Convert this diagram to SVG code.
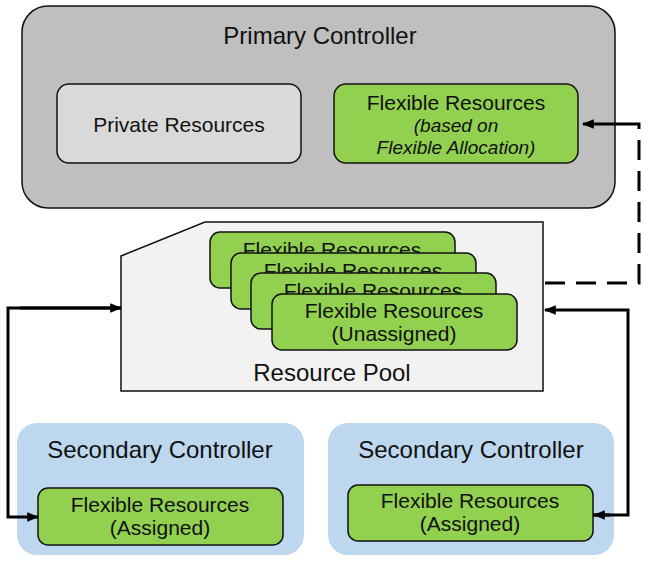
<svg xmlns="http://www.w3.org/2000/svg" width="649" height="583" viewBox="0 0 649 583">
<style>
text{font-family:"Liberation Sans",Arial,sans-serif;fill:#111;text-anchor:middle}
.t{font-size:24px}
.b{font-size:21px}
.i{font-size:19px;font-style:italic}
.green{fill:#92d050;stroke:#111;stroke-width:1.5}
.conn{fill:none;stroke:#000;stroke-width:3}
</style>
<defs>
<marker id="ah" viewBox="0 0 10 10" refX="9" refY="5" markerWidth="4" markerHeight="4" orient="auto" markerUnits="strokeWidth">
<path d="M0,1 L10,5 L0,9 z" fill="#000"/>
</marker>
<clipPath id="c1"><rect x="210" y="232" width="245" height="21"/></clipPath>
<clipPath id="c2"><rect x="231" y="253" width="245" height="20"/></clipPath>
<clipPath id="c3"><rect x="251" y="273" width="245" height="21"/></clipPath>
</defs>
<rect width="649" height="583" fill="#fff"/>
<g id="primary">
<rect x="22" y="6" width="593" height="202" rx="26" fill="#bfbfbf" stroke="#111" stroke-width="1.5"/>
<text class="t" x="320" y="44">Primary Controller</text>
</g>
<g id="private">
<rect x="57" y="84" width="244" height="79" rx="12" fill="#d9d9d9" stroke="#111" stroke-width="1.5"/>
<text class="b" x="179" y="132">Private Resources</text>
</g>
<g id="flex-primary">
<rect class="green" x="334" y="84" width="244" height="79" rx="12"/>
<text class="b" x="456" y="110">Flexible Resources</text>
<text class="i" x="456" y="132">(based on</text>
<text class="i" x="456" y="154">Flexible Allocation)</text>
</g>
<g id="pool">
<path d="M121,256 L205,222 L543,222 L543,391 L121,391 Z" fill="#f2f2f2" stroke="#111" stroke-width="1.5"/>
<text class="t" x="332" y="381">Resource Pool</text>
</g>
<g id="card1">
<rect class="green" x="210" y="232" width="245" height="56" rx="10"/>
<text class="b" x="332" y="257" clip-path="url(#c1)">Flexible Resources</text>
</g>
<g id="card2">
<rect class="green" x="231" y="253" width="245" height="56" rx="10"/>
<text class="b" x="353" y="278" clip-path="url(#c2)">Flexible Resources</text>
</g>
<g id="card3">
<rect class="green" x="251" y="273" width="245" height="56" rx="10"/>
<text class="b" x="373" y="298" clip-path="url(#c3)">Flexible Resources</text>
</g>
<g id="card4">
<rect class="green" x="272" y="294" width="245" height="56" rx="10"/>
<text class="b" x="394" y="318">Flexible Resources</text>
<text class="b" x="394" y="341">(Unassigned)</text>
</g>
<g id="secondary-left">
<rect x="17" y="423" width="287" height="132" rx="20" fill="#bdd7ee"/>
<text class="t" x="160" y="458">Secondary Controller</text>
</g>
<g id="flex-left">
<rect class="green" x="38" y="488" width="245" height="57" rx="10"/>
<text class="b" x="160" y="512">Flexible Resources</text>
<text class="b" x="160" y="535">(Assigned)</text>
</g>
<g id="secondary-right">
<rect x="328" y="423" width="286" height="132" rx="20" fill="#bdd7ee"/>
<text class="t" x="471" y="458">Secondary Controller</text>
</g>
<g id="flex-right">
<rect class="green" x="348" y="485" width="245" height="56" rx="10"/>
<text class="b" x="470" y="508">Flexible Resources</text>
<text class="b" x="470" y="531">(Assigned)</text>
</g>
<g id="connectors">
<path class="conn" d="M627,124 H583" marker-end="url(#ah)"/>
<path class="conn" d="M545,283 H639 V124 H627" stroke-dasharray="20,11"/>
<path class="conn" d="M121,308 H8 V517 H38" marker-end="url(#ah)"/>
<path class="conn" d="M20,308 H121" marker-end="url(#ah)"/>
<path class="conn" d="M593,515 H628 V310 H545" marker-end="url(#ah)"/>
<path class="conn" d="M610,515 H594" marker-end="url(#ah)"/>
</g>
</svg>
